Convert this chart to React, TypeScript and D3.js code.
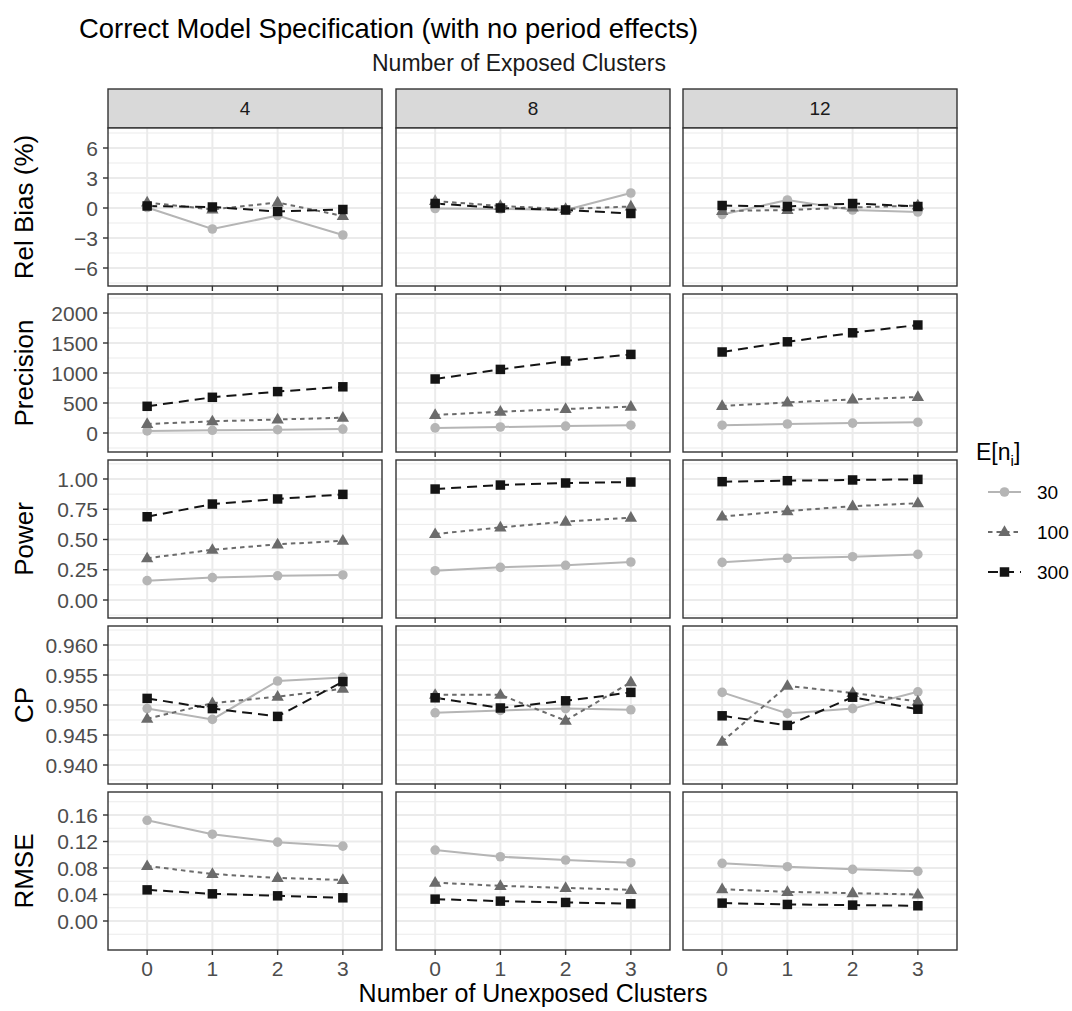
import React from "react";
import * as d3 from "d3";

// ---------- data ----------
const exposedClusters = ["4", "8", "12"];
const unexposedClusters = ["0", "1", "2", "3"];
const sizeLevels = ["30", "100", "300"];
const measureNames = ["Rel Bias (%)", "Precision", "Power", "CP", "RMSE"];

// each array: one row of 4 values per exposed-cluster column (4, 8, 12)
const relBias30 = [[0.05, -2.1, -0.75, -2.7], [-0.05, -0.1, -0.2, 1.5], [-0.65, 0.8, -0.2, -0.4]];
const relBias100 = [[0.55, -0.15, 0.55, -0.8], [0.7, 0.2, -0.1, 0.15], [-0.3, -0.2, 0.05, 0.25]];
const relBias300 = [[0.2, 0.1, -0.35, -0.15], [0.45, 0.0, -0.2, -0.55], [0.25, 0.15, 0.45, 0.15]];

const precision30 = [[35, 45, 55, 65], [85, 100, 115, 130], [130, 150, 165, 180]];
const precision100 = [[150, 195, 225, 255], [300, 355, 400, 440], [450, 510, 560, 600]];
const precision300 = [[445, 595, 690, 770], [900, 1060, 1200, 1310], [1350, 1520, 1670, 1800]];

const power30 = [[0.16, 0.185, 0.2, 0.207], [0.242, 0.27, 0.287, 0.314], [0.311, 0.345, 0.358, 0.377]];
const power100 = [[0.345, 0.415, 0.46, 0.49], [0.545, 0.6, 0.648, 0.68], [0.69, 0.735, 0.775, 0.8]];
const power300 = [[0.688, 0.793, 0.835, 0.873], [0.917, 0.95, 0.967, 0.975], [0.978, 0.986, 0.992, 0.997]];

const cp30 = [[0.9494, 0.9476, 0.954, 0.9546], [0.9487, 0.9491, 0.9494, 0.9492], [0.9521, 0.9486, 0.9494, 0.9522]];
const cp100 = [[0.9477, 0.9503, 0.9514, 0.9527], [0.9517, 0.9517, 0.9474, 0.9538], [0.9439, 0.9532, 0.952, 0.9506]];
const cp300 = [[0.9511, 0.9494, 0.9481, 0.9539], [0.9512, 0.9495, 0.9507, 0.9521], [0.9482, 0.9466, 0.9513, 0.9493]];

const rmse30 = [[0.152, 0.131, 0.119, 0.113], [0.107, 0.097, 0.092, 0.088], [0.087, 0.082, 0.078, 0.075]];
const rmse100 = [[0.083, 0.071, 0.065, 0.062], [0.058, 0.053, 0.05, 0.047], [0.048, 0.044, 0.042, 0.04]];
const rmse300 = [[0.047, 0.041, 0.038, 0.035], [0.033, 0.03, 0.028, 0.026], [0.027, 0.025, 0.024, 0.023]];

const relBiasTicks = [-6, -3, 0, 3, 6];
const precisionTicks = [0, 500, 1000, 1500, 2000];
const powerTicks = [0, 0.25, 0.5, 0.75, 1.0];
const cpTicks = [0.94, 0.945, 0.95, 0.955, 0.96];
const rmseTicks = [0, 0.04, 0.08, 0.12, 0.16];

const seriesByMeasure = [
  [relBias30, relBias100, relBias300],
  [precision30, precision100, precision300],
  [power30, power100, power300],
  [cp30, cp100, cp300],
  [rmse30, rmse100, rmse300],
];
const ticksByMeasure = [relBiasTicks, precisionTicks, powerTicks, cpTicks, rmseTicks];
const tickFormats = [d3.format("d"), d3.format("d"), d3.format(".2f"), d3.format(".3f"), d3.format(".2f")];

// ---------- layout / style ----------
const W = 1072;
const H = 1011;
const colX = [108, 396, 683];
const panelW = 274;
const stripTop = 89;
const stripH = 39;
const rowTop0 = 128;
const rowPitch = 166;
const panelH = 158;
const padTop = [20, 19, 19, 19, 23];
const padBottom = [18, 19, 18, 19, 29];
const FONT = "'Liberation Sans', Arial, Helvetica, sans-serif";

const sizeColors = ["#B5B5B5", "#6B6B6B", "#141414"];
const sizeDash = [null, "4.5,4", "10,6"];
const gridCol = "#EBEBEB";
const borderCol = "#333333";

function Marker({ k, x, y }: { k: number; x: number; y: number }) {
  const c = sizeColors[k];
  if (k === 0) return <circle cx={x} cy={y} r={4.8} fill={c} />;
  const sym = d3.symbol().type(k === 1 ? d3.symbolTriangle : d3.symbolSquare).size(k === 1 ? 66 : 90)();
  return <path d={sym || ""} transform={`translate(${x},${y + (k === 1 ? 0.5 : 0)})`} fill={c} />;
}

export default function App() {
  const step = panelW / (unexposedClusters.length - 1 + 1.2);
  const xPos = (i: number) => step * (0.6 + i);

  const panels: React.ReactNode[] = [];
  measureNames.forEach((m, r) => {
    const top = rowTop0 + r * rowPitch;
    const ticks = ticksByMeasure[r];
    const y = d3
      .scaleLinear()
      .domain([ticks[0], ticks[ticks.length - 1]])
      .range([top + panelH - padBottom[r], top + padTop[r]]);
    const tstep = ticks[1] - ticks[0];
    const minors: number[] = [];
    for (let i = -1; i < ticks.length; i++) minors.push(ticks[0] + (i + 0.5) * tstep);
    exposedClusters.forEach((cname, c) => {
      const left = colX[c];
      const key = `${r}-${c}`;
      panels.push(
        <g key={key}>
          <rect x={left} y={top} width={panelW} height={panelH} fill="white" />
          {minors
            .filter((v) => y(v) > top && y(v) < top + panelH)
            .map((v, i) => (
              <line key={"mi" + i} x1={left} x2={left + panelW} y1={y(v)} y2={y(v)} stroke={gridCol} strokeWidth={1} />
            ))}
          {ticks.map((v, i) => (
            <line key={"ma" + i} x1={left} x2={left + panelW} y1={y(v)} y2={y(v)} stroke={gridCol} strokeWidth={2} />
          ))}
          {unexposedClusters.map((u, i) => (
            <line key={"vx" + i} x1={left + xPos(i)} x2={left + xPos(i)} y1={top} y2={top + panelH} stroke={gridCol} strokeWidth={2} />
          ))}
          {seriesByMeasure[r].map((s, k) => {
            const vals = s[c];
            const line = d3
              .line<number>()
              .x((_, i) => left + xPos(i))
              .y((v) => y(v))(vals);
            return (
              <path
                key={"l" + k}
                d={line || ""}
                fill="none"
                stroke={sizeColors[k]}
                strokeWidth={2}
                strokeDasharray={sizeDash[k] || undefined}
              />
            );
          })}
          {seriesByMeasure[r].map((s, k) =>
            s[c].map((v, i) => <Marker key={"p" + k + "-" + i} k={k} x={left + xPos(i)} y={y(v)} />)
          )}
          <rect x={left} y={top} width={panelW} height={panelH} fill="none" stroke={borderCol} strokeWidth={1.4} />
          {unexposedClusters.map((u, i) => (
            <line key={"xt" + i} x1={left + xPos(i)} x2={left + xPos(i)} y1={top + panelH} y2={top + panelH + 5} stroke={borderCol} strokeWidth={1.4} />
          ))}
          {c === 0 &&
            ticks.map((v, i) => (
              <g key={"yt" + i}>
                <line x1={left - 5} x2={left} y1={y(v)} y2={y(v)} stroke={borderCol} strokeWidth={1.4} />
                <text x={left - 10} y={y(v)} dy="0.36em" textAnchor="end" fontSize={21} fill="#4D4D4D" fontFamily={FONT}>
                  {tickFormats[r](v)}
                </text>
              </g>
            ))}
          {r === measureNames.length - 1 &&
            unexposedClusters.map((u, i) => (
              <text key={"xl" + i} x={left + xPos(i)} y={top + panelH + 26} textAnchor="middle" fontSize={21} fill="#4D4D4D" fontFamily={FONT}>
                {u}
              </text>
            ))}
        </g>
      );
    });
  });

  return (
    <svg width={W} height={H} style={{ position: "absolute", left: 0, top: 0, background: "white" }} fontFamily={FONT}>
      <rect x={0} y={0} width={W} height={H} fill="white" />
      <text x={79} y={38} fontSize={27.4} fill="#000">
        Correct Model Specification (with no period effects)
      </text>
      <text x={519} y={71} textAnchor="middle" fontSize={23} fill="#1A1A1A">
        Number of Exposed Clusters
      </text>
      {exposedClusters.map((cname, c) => (
        <g key={"strip" + c}>
          <rect x={colX[c]} y={stripTop} width={panelW} height={stripH} fill="#D9D9D9" stroke={borderCol} strokeWidth={1.4} />
          <text x={colX[c] + panelW / 2} y={stripTop + stripH / 2} dy="0.36em" textAnchor="middle" fontSize={19} fill="#1A1A1A">
            {cname}
          </text>
        </g>
      ))}
      {panels}
      {measureNames.map((m, r) => (
        <text
          key={"yl" + r}
          transform={`translate(33,${rowTop0 + r * rowPitch + panelH / 2}) rotate(-90)`}
          textAnchor="middle"
          fontSize={26}
          fill="#000"
        >
          {m}
        </text>
      ))}
      <text x={533} y={1002} textAnchor="middle" fontSize={25} fill="#000">
        Number of Unexposed Clusters
      </text>
      {/* legend */}
      <text x={976} y={460} fontSize={23} fill="#000">
        E[n<tspan fontSize={15} dy={6}>i</tspan>
        <tspan dy={-6}>]</tspan>
      </text>
      {sizeLevels.map((s, k) => {
        const cy = 492 + k * 40;
        return (
          <g key={"lg" + k}>
            <line x1={988} x2={1021} y1={cy} y2={cy} stroke={sizeColors[k]} strokeWidth={2} strokeDasharray={sizeDash[k] || undefined} />
            <Marker k={k} x={1004.5} y={cy} />
            <text x={1037} y={cy} dy="0.36em" fontSize={19} fill="#000">
              {s}
            </text>
          </g>
        );
      })}
    </svg>
  );
}
